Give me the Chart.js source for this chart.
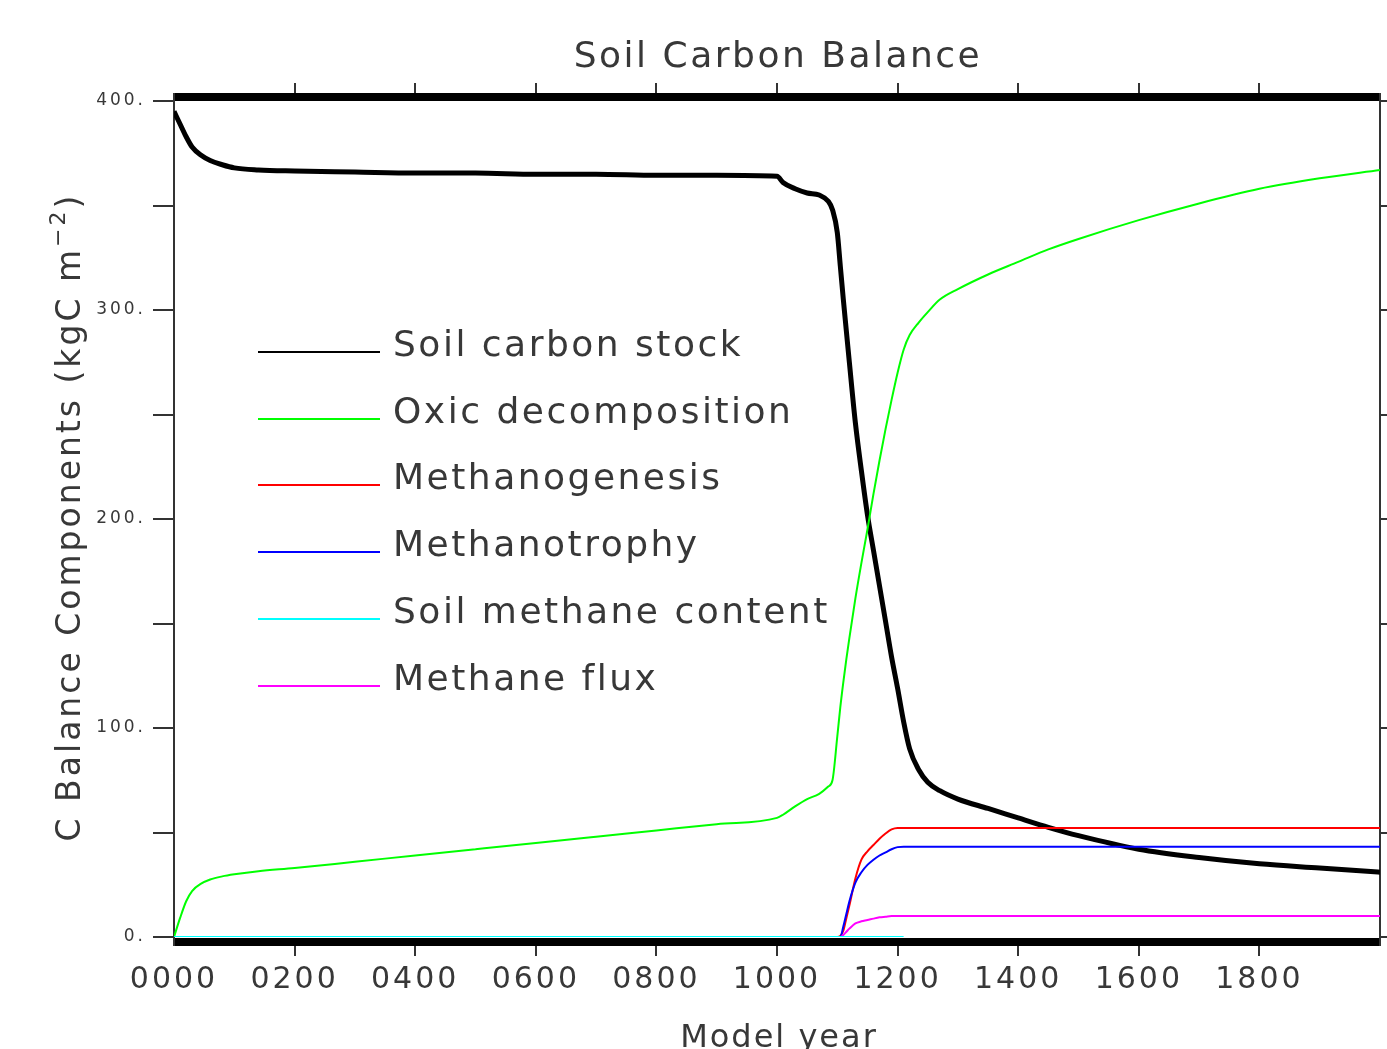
<!DOCTYPE html>
<html>
<head>
<meta charset="utf-8">
<script src="https://cdn.jsdelivr.net/npm/chart.js@4/dist/chart.umd.min.js"></script>
<style>
  body { margin: 0; background: #fff; }
</style>
</head>
<body>
<canvas id="carbonChart" width="1387" height="1049"></canvas>
<script>
// model years shared by every series
const years = [0, 10, 20, 30, 45, 60, 80, 100, 140, 200, 300, 400, 500, 600, 700, 800, 900, 1000,
  1010, 1030, 1050, 1070, 1085, 1092, 1100, 1105, 1110, 1115, 1120, 1130, 1140, 1150, 1160, 1170,
  1180, 1190, 1200, 1210, 1220, 1235, 1250, 1270, 1300, 1350, 1400, 1450, 1500, 1600, 1700, 1800,
  1900, 2000];

const soilCarbonStock = [395, 389, 383, 378, 374, 371.5, 369.5, 368, 367, 366.5, 366, 365.5, 365.5, 365, 365, 364.5, 364.5, 364,
  361, 358, 356, 355, 352, 348, 337, 321, 305, 290, 275, 246, 223, 202, 185, 168,
  151, 134, 119, 103, 90, 80, 74, 70, 66, 61.5, 57, 52.5, 48.5, 42, 38, 35,
  33, 31];

const oxicDecomposition = [0, 9, 17, 22, 25.5, 27.5, 29, 30, 31.5, 33, 36, 39, 42, 45, 48, 51, 54, 57,
  58.5, 62.5, 66, 68.5, 72, 75, 96, 110, 122, 133, 143, 162, 179, 195, 212, 228,
  243, 257, 270, 281, 288, 294, 299, 305, 310, 317, 323, 329, 334, 343, 351, 358,
  363, 367];

const methanogenesis = [0, 0, 0, 0, 0, 0, 0, 0, 0, 0, 0, 0, 0, 0, 0, 0, 0, 0,
  0, 0, 0, 0, 0, 0, 0, 0.5, 3, 9, 15, 28, 37, 41, 44, 47,
  49.5, 51.5, 52.2, 52.2, 52.2, 52.2, 52.2, 52.2, 52.2, 52.2, 52.2, 52.2, 52.2, 52.2, 52.2, 52.2,
  52.2, 52.2];

const methanotrophy = [0, 0, 0, 0, 0, 0, 0, 0, 0, 0, 0, 0, 0, 0, 0, 0, 0, 0,
  0, 0, 0, 0, 0, 0, 0, 0, 5, 11, 17, 26, 31, 34.5, 37, 39,
  40.5, 42, 43, 43.2, 43.2, 43.2, 43.2, 43.2, 43.2, 43.2, 43.2, 43.2, 43.2, 43.2, 43.2, 43.2,
  43.2, 43.2];

const soilMethane = [0, 0, 0, 0, 0, 0, 0, 0, 0, 0, 0, 0, 0, 0, 0, 0, 0, 0,
  0, 0, 0, 0, 0, 0, 0, 0, 0, 0, 0, 0, 0, 0, 0, 0,
  0, 0, 0, 0, null, null, null, null, null, null, null, null, null, null, null, null,
  null, null];

const methaneFlux = [0, 0, 0, 0, 0, 0, 0, 0, 0, 0, 0, 0, 0, 0, 0, 0, 0, 0,
  0, 0, 0, 0, 0, 0, 0, 0, 1, 2.5, 4, 6.5, 7.5, 8.1, 8.8, 9.4,
  9.7, 10, 10, 10, 10, 10, 10, 10, 10, 10, 10, 10, 10, 10, 10, 10,
  10, 10];

const seriesNames = ['Soil carbon stock', 'Oxic decomposition', 'Methanogenesis',
  'Methanotrophy', 'Soil methane content', 'Methane flux'];
const xTickLabels = ['0000', '0200', '0400', '0600', '0800', '1000', '1200', '1400', '1600', '1800'];
const yTickLabels = ['0.', '', '100.', '', '200.', '', '300.', '', '400.'];

const textColor = '#383838';
const fontFamily = "'DejaVu Sans', sans-serif";

function pts(values) {
  return years.map((x, i) => ({ x: x, y: values[i] }));
}

function line(label, values, color, width, order) {
  return {
    label: label,
    data: pts(values),
    borderColor: color,
    backgroundColor: color,
    borderWidth: width,
    pointRadius: 0,
    cubicInterpolationMode: 'monotone',
    order: order
  };
}

// axis frame, thick top/bottom bars, tick marks, titles and the legend
const framePlugin = {
  id: 'frame',
  beforeDraw(chart) {
    chart.ctx.letterSpacing = '3px';
  },
  beforeDatasetsDraw(chart) {
    const c = chart.ctx;
    const a = chart.chartArea;
    const xs = chart.scales.x;
    const ys = chart.scales.y;
    c.save();
    c.fillStyle = '#000';
    c.fillRect(a.left, a.top - 8, a.right - a.left, 8);
    c.fillRect(a.left, a.bottom + 1, a.right - a.left, 8);

    c.strokeStyle = '#333';
    c.lineWidth = 2;
    c.beginPath();
    c.moveTo(a.left, a.top - 8);
    c.lineTo(a.left, a.bottom + 9);
    c.moveTo(a.right, a.top - 8);
    c.lineTo(a.right, a.bottom + 9);
    ys.ticks.forEach(t => {
      const y = Math.round(ys.getPixelForValue(t.value));
      c.moveTo(a.left - 21, y);
      c.lineTo(a.left, y);
      c.moveTo(a.right, y);
      c.lineTo(a.right + 8, y);
    });
    xs.ticks.forEach(t => {
      if (t.value <= 0 || t.value >= 2000) return;
      const x = Math.round(xs.getPixelForValue(t.value));
      c.moveTo(x, a.bottom + 9);
      c.lineTo(x, a.bottom + 19);
      c.moveTo(x, a.top - 8);
      c.lineTo(x, a.top - 18);
    });
    c.stroke();
    c.restore();
  },
  afterDraw(chart) {
    const c = chart.ctx;
    c.save();
    c.fillStyle = textColor;
    c.textBaseline = 'alphabetic';

    // title
    c.letterSpacing = '2.5px';
    c.font = '36px ' + fontFamily;
    c.textAlign = 'center';
    c.fillText('Soil Carbon Balance', 778, 67);

    // x axis title
    c.letterSpacing = '2px';
    c.font = '32px ' + fontFamily;
    c.fillText('Model year', 779, 1047);

    // y axis title with superscript
    c.letterSpacing = '3px';
    c.save();
    c.translate(80, 517);
    c.rotate(-Math.PI / 2);
    c.textAlign = 'left';
    const main = 'C Balance Components (kgC m';
    c.font = '33px ' + fontFamily;
    const wMain = c.measureText(main).width;
    const wClose = c.measureText(')').width;
    c.font = '22px ' + fontFamily;
    const wSup = c.measureText('\u22122').width;
    let x0 = -(wMain + wSup + wClose) / 2;
    c.font = '33px ' + fontFamily;
    c.fillText(main, x0, 0);
    c.font = '22px ' + fontFamily;
    c.fillText('\u22122', x0 + wMain, -15);
    c.font = '33px ' + fontFamily;
    c.fillText(')', x0 + wMain + wSup, 0);
    c.restore();

    // legend
    const legendY = [352, 419, 485, 552, 619, 686];
    c.font = '36px ' + fontFamily;
    c.textAlign = 'left';
    c.letterSpacing = '2.5px';
    seriesNames.forEach((name, i) => {
      const ds = chart.data.datasets.find(d => d.label === name);
      c.strokeStyle = ds.borderColor;
      c.lineWidth = 2;
      c.beginPath();
      c.moveTo(258, legendY[i]);
      c.lineTo(380, legendY[i]);
      c.stroke();
      c.fillStyle = textColor;
      c.fillText(name, 393, legendY[i] + 4);
    });
    c.restore();
  }
};

const ctx = document.getElementById('carbonChart').getContext('2d');

const chart = new Chart(ctx, {
  type: 'line',
  data: {
    datasets: [
      line(seriesNames[0], soilCarbonStock, '#000000', 5, 5),
      line(seriesNames[1], oxicDecomposition, '#00ff00', 2, 4),
      line(seriesNames[2], methanogenesis, '#ff0000', 2, 3),
      line(seriesNames[3], methanotrophy, '#0000ff', 2, 2),
      line(seriesNames[4], soilMethane, '#00ffff', 2, 0),
      line(seriesNames[5], methaneFlux, '#ff00ff', 2, 1)
    ]
  },
  options: {
    responsive: false,
    animation: false,
    layout: { padding: { left: 0, right: 7, top: 101, bottom: 0 } },
    plugins: {
      legend: { display: false },
      title: { display: false },
      tooltip: { enabled: false }
    },
    scales: {
      x: {
        type: 'linear',
        min: 0,
        max: 2000,
        grid: { display: false, drawTicks: false },
        border: { display: false },
        ticks: {
          stepSize: 200,
          autoSkip: false,
          maxRotation: 0,
          padding: 25,
          color: textColor,
          font: { family: fontFamily, size: 30 },
          callback: v => xTickLabels[v / 200] || ''
        },
        afterFit: s => {
          s.height = 112;
          s.paddingLeft = 0;
          s.paddingRight = 0;
        }
      },
      y: {
        min: 0,
        max: 400,
        grid: { display: false, drawTicks: false },
        border: { display: false },
        ticks: {
          stepSize: 50,
          autoSkip: false,
          padding: 28,
          color: textColor,
          font: { family: fontFamily, size: 17 },
          callback: (v, i) => yTickLabels[i]
        },
        afterFit: s => {
          s.width = 174;
          s.paddingTop = 0;
          s.paddingBottom = 0;
        }
      }
    }
  },
  plugins: [framePlugin]
});
</script>
</body>
</html>
